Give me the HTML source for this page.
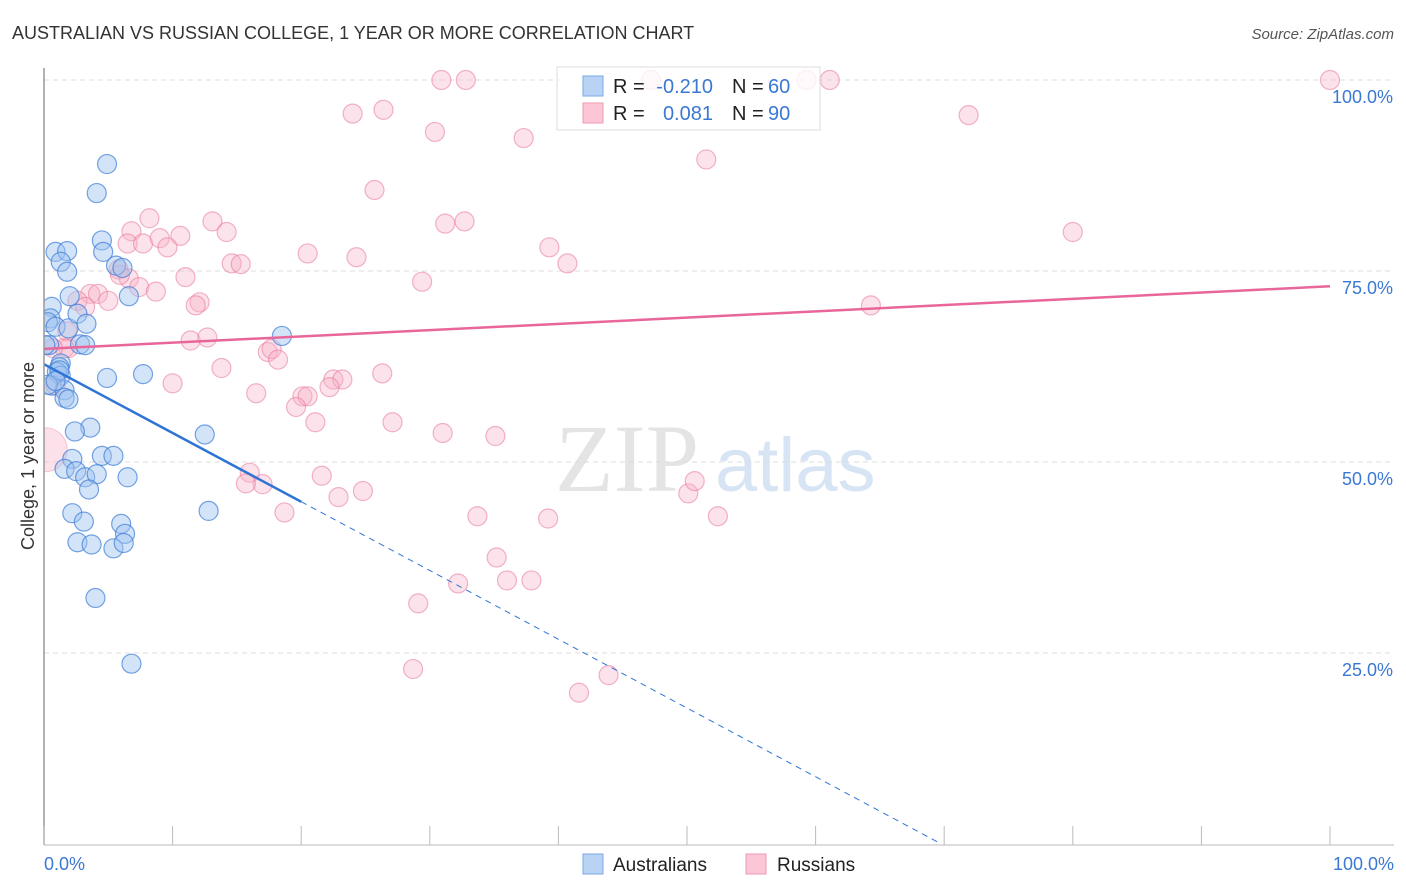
<!DOCTYPE html>
<html><head><meta charset="utf-8"><style>
body{margin:0;background:#fff;font-family:"Liberation Sans",sans-serif;}
svg{display:block}
</style></head><body>
<svg id="chart" width="1406" height="892">
<defs><clipPath id="plotclip"><rect x="44" y="40" width="1362" height="805"/></clipPath></defs>
<text x="12" y="39" font-size="18" fill="#333">AUSTRALIAN VS RUSSIAN COLLEGE, 1 YEAR OR MORE CORRELATION CHART</text>
<text x="1394" y="39" font-size="15" fill="#555" font-style="italic" text-anchor="end">Source: ZipAtlas.com</text>
<text x="0" y="0" transform="translate(34,456) rotate(-90)" font-size="18" fill="#333" text-anchor="middle">College, 1 year or more</text>
<g><text x="555" y="491" font-size="96" font-family="Liberation Serif,serif" fill="#e4e4e4">ZIP</text><text x="715" y="491" font-size="76" fill="#d6e4f3">atlas</text></g>
<g id="grid"></g><g id="marks" clip-path="url(#plotclip)"></g><g id="axes"></g>
<g>
<rect x="557" y="67" width="263" height="63" fill="rgba(255,255,255,0.8)" stroke="#ddd"/>
<rect x="583" y="76" width="20" height="20" fill="#b9d3f5" stroke="#7aa8e6"/>
<rect x="583" y="103" width="20" height="20" fill="#fcc6d6" stroke="#ee9ab3"/>
<text x="613" y="93" font-size="20" fill="#222">R =</text>
<text x="713" y="93" font-size="20" fill="#3a78d4" text-anchor="end">-0.210</text>
<text x="732" y="93" font-size="20" fill="#222">N =</text>
<text x="768" y="93" font-size="20" fill="#3a78d4">60</text>
<text x="613" y="120" font-size="20" fill="#222">R =</text>
<text x="713" y="120" font-size="20" fill="#3a78d4" text-anchor="end">0.081</text>
<text x="732" y="120" font-size="20" fill="#222">N =</text>
<text x="768" y="120" font-size="20" fill="#3a78d4">90</text>
</g>
<g>
<rect x="583" y="854" width="20" height="20" fill="#b9d3f5" stroke="#7aa8e6"/>
<text x="613" y="871" font-size="19" fill="#222">Australians</text>
<rect x="746" y="854" width="20" height="20" fill="#fcc6d6" stroke="#ee9ab3"/>
<text x="777" y="871" font-size="19" fill="#222">Russians</text>
</g>
</svg>
<script>
const ausX=[4.9,4.1,0.9,1.8,4.5,4.6,1.3,1.8,5.6,6.1,6.6,2.0,0.6,0.5,0.3,0.9,1.9,2.6,3.3,2.8,3.2,0.4,18.5,1.3,1.2,4.9,7.7,1.0,1.3,0.6,1.6,1.6,1.9,3.6,2.4,12.5,2.2,4.5,5.4,1.6,2.5,3.2,4.1,6.5,3.5,12.8,2.2,3.1,6.0,6.3,2.6,3.7,5.4,6.2,4.0,6.8,0.1,0.3,1.2,0.9];
const ausY=[89,85.2,77.5,77.6,79,77.5,76.2,74.9,75.7,75.4,71.7,71.7,70.3,68.8,68.3,67.7,67.5,69.4,68.1,65.4,65.3,65.3,66.5,62.9,62.4,61,61.5,61.8,61.3,60,59.4,58.4,58.2,54.5,54,53.6,50.4,50.8,50.8,49.1,48.8,48,48.4,48,46.4,43.6,43.3,42.2,41.9,40.6,39.5,39.2,38.7,39.4,32.2,23.6,65.3,60.1,62,60.6];
const rusX=[30.9,32.8,47.2,59.3,61.1,100,26.4,24.0,71.9,30.4,37.3,51.5,25.7,8.2,13.1,6.8,14.2,10.6,31.2,32.7,80.0,6.5,7.7,9.0,9.6,20.5,24.3,39.3,40.7,14.6,15.3,5.8,6.6,5.9,7.4,11.0,29.4,8.7,3.6,4.2,5.0,2.6,3.2,12.1,11.8,64.3,1.8,11.4,12.7,1.9,17.4,17.7,18.2,13.8,26.3,22.5,23.2,22.2,10.0,16.5,20.1,20.5,19.6,21.1,27.1,31.0,35.1,16.0,17.0,21.6,15.7,22.9,24.8,18.7,33.7,39.2,50.1,50.6,52.4,35.2,36.0,37.9,32.2,29.1,28.7,43.9,41.6,0.9,1.6,0.7];
const rusY=[100,100,100,100,100,100,96.1,95.6,95.4,93.2,92.4,89.6,85.6,81.9,81.5,80.2,80.1,79.6,81.2,81.5,80.1,78.6,78.6,79.3,78.1,77.3,76.8,78.1,76,76,75.9,75.2,74,74.5,72.9,74.2,73.6,72.3,72,72,71.1,71.1,70.3,70.9,70.5,70.5,67.1,65.9,66.3,64.9,64.4,64.8,63.4,62.3,61.6,60.8,60.8,59.8,60.3,59,58.6,58.6,57.2,55.2,55.2,53.8,53.4,48.6,47.1,48.2,47.2,45.4,46.2,43.4,42.9,42.6,45.9,47.5,42.9,37.5,34.5,34.5,34.1,31.5,22.9,22.1,19.8,60,64.9,64.9];
const trendA=[62.8,-0.9]; // intercept, slope (% per %) Australians
const trendR=[64.8,0.082]; // Russians
const xTicks=[0,10,20,30,40,50,60,70,80,90,100];
const yTicks=[25,50,75,100];
const yTickLabels=["25.0%","50.0%","75.0%","100.0%"];
const NS="http://www.w3.org/2000/svg";
const xs=v=>44+v*12.86, ys=v=>844-v*7.64;
function mk(tag,attrs,parent){const e=document.createElementNS(NS,tag);for(const k in attrs)e.setAttribute(k,attrs[k]);parent.appendChild(e);return e;}
const grid=document.getElementById('grid'),marks=document.getElementById('marks'),axes=document.getElementById('axes');
yTicks.forEach((t,i)=>{
 const l=mk('line',{x1:44,x2:1394,y1:ys(t),y2:ys(t),stroke:'#ddd','stroke-dasharray':'5,4'},grid);
 
 
 const tx=mk('text',{x:1393,y:ys(t)+23,'font-size':18,fill:'#3a78d4','text-anchor':'end'},axes);
 tx.textContent=yTickLabels[i];
 
 
});
mk('line',{x1:44,x2:44,y1:68,y2:845,stroke:'#999','stroke-width':1.5},axes);
mk('line',{x1:44,x2:1394,y1:845,y2:845,stroke:'#bbb'},axes);
xTicks.forEach(t=>{const l=mk('line',{x1:xs(t),x2:xs(t),y1:826,y2:845,stroke:'#bbb'},axes);
 
 });
const x0=mk('text',{x:44,y:870,'font-size':18,fill:'#3a78d4'},axes);x0.textContent='0.0%';


const x1=mk('text',{x:1394,y:870,'font-size':18,fill:'#3a78d4','text-anchor':'end'},axes);x1.textContent='100.0%';


const bp=mk('circle',{cx:xs(0.1),cy:ys(51.6),r:22,fill:'rgba(248,170,195,0.35)',stroke:'rgba(235,130,160,0.4)'},marks);


rusX.forEach((x,i)=>{const c=mk('circle',{cx:xs(x),cy:ys(rusY[i]),r:9.5,fill:'rgba(248,180,200,0.38)',stroke:'rgba(232,120,155,0.55)','stroke-width':1.2},marks);
 
 });
ausX.forEach((x,i)=>{const c=mk('circle',{cx:xs(x),cy:ys(ausY[i]),r:9.5,fill:'rgba(160,195,240,0.45)',stroke:'rgba(60,125,215,0.7)','stroke-width':1.2},marks);
 
 });
const f=(t,x)=>t[0]+t[1]*x;
const tr=mk('line',{x1:xs(0),y1:ys(f(trendR,0)),x2:xs(100),y2:ys(f(trendR,100)),stroke:'#e8669a','stroke-width':2.5},marks);


const ta=mk('line',{x1:xs(0),y1:ys(f(trendA,0)),x2:xs(20),y2:ys(f(trendA,20)),stroke:'#2f74d4','stroke-width':2.5},marks);


const xe=-trendA[0]/trendA[1];
const td=mk('line',{x1:xs(20),y1:ys(f(trendA,20)),x2:xs(xe),y2:ys(0),stroke:'#2f74d4','stroke-width':1,'stroke-dasharray':'6,5'},marks);


</script>
</body></html>
